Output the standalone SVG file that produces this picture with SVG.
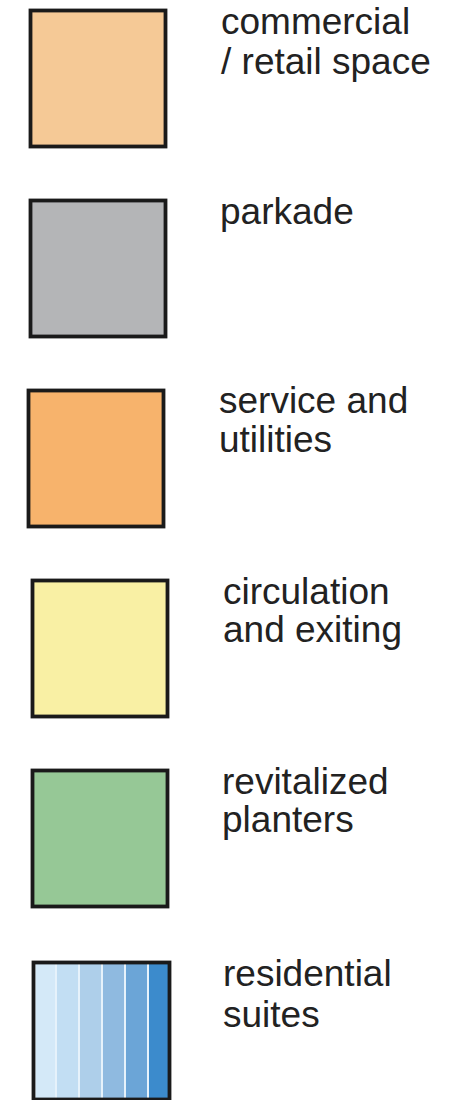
<svg xmlns="http://www.w3.org/2000/svg" width="475" height="1100" viewBox="0 0 475 1100">
<style>
.sw{stroke:#1a1a1a;stroke-width:3.8}
.t{font-family:"Liberation Sans",Arial,sans-serif;font-size:37px;fill:#222}
</style>
<rect width="475" height="1100" fill="#ffffff"/>
<g id="commercial">
<rect class="sw" x="30.5" y="10.5" width="135" height="136" fill="#F5C996"/>
<text class="t" x="221" y="34">commercial</text>
<text class="t" x="221" y="74">/ retail space</text>
</g>
<g id="parkade">
<rect class="sw" x="30.5" y="200.5" width="135" height="136" fill="#B4B5B7"/>
<text class="t" x="220" y="224">parkade</text>
</g>
<g id="service">
<rect class="sw" x="28.5" y="390.5" width="135" height="136" fill="#F7B36C"/>
<text class="t" x="219" y="413">service and</text>
<text class="t" x="219" y="452">utilities</text>
</g>
<g id="circulation">
<rect class="sw" x="32.5" y="580.5" width="135" height="136" fill="#F9F0A4"/>
<text class="t" x="223" y="604">circulation</text>
<text class="t" x="223" y="642">and exiting</text>
</g>
<g id="planters">
<rect class="sw" x="32.5" y="770.5" width="135" height="136" fill="#96C896"/>
<text class="t" x="222" y="794">revitalized</text>
<text class="t" x="222" y="832">planters</text>
</g>
<g id="residential">
<rect x="33" y="962" width="137" height="136" fill="#E6F2FB"/>
<rect x="36" y="962" width="19" height="136" fill="#D4E9F8"/>
<rect x="57" y="962" width="21" height="136" fill="#C2DEF3"/>
<rect x="80" y="962" width="21" height="136" fill="#AECFEA"/>
<rect x="103" y="962" width="21" height="136" fill="#8FBAE0"/>
<rect x="126" y="962" width="21" height="136" fill="#6BA5D7"/>
<rect x="149" y="962" width="20" height="136" fill="#3C8BCC"/>
<rect class="sw" x="33.5" y="962.5" width="136" height="137" fill="none"/>
<text class="t" x="223" y="986">residential</text>
<text class="t" x="223" y="1027">suites</text>
</g>
<g id="connectors"/>
</svg>
